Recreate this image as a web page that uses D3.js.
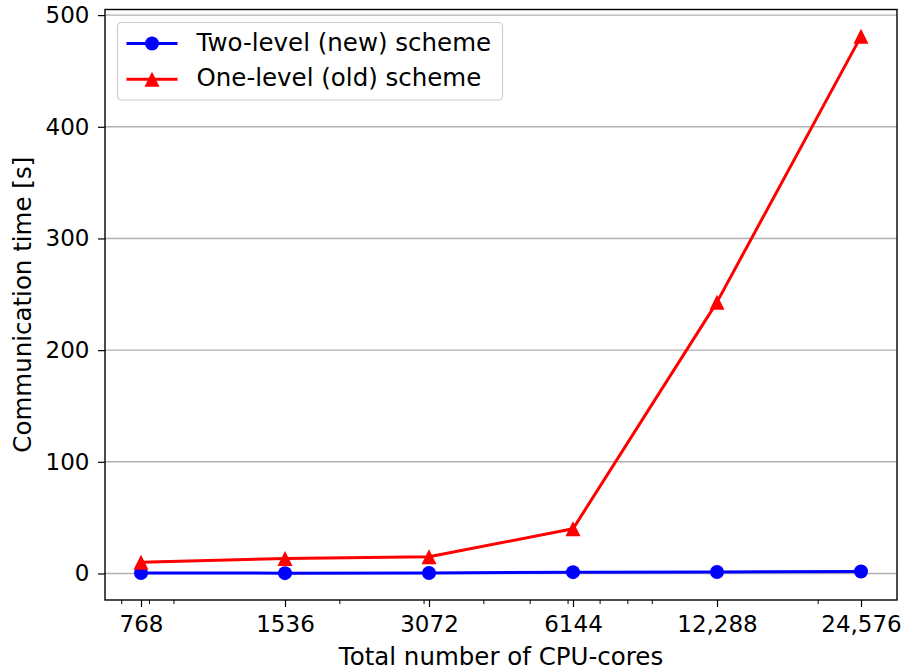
<!DOCTYPE html>
<html>
<head>
<meta charset="utf-8">
<script src="https://cdn.jsdelivr.net/npm/d3@7"></script>
<style>
  html, body { margin: 0; padding: 0; background: #fff; }
  svg text { font-family: "DejaVu Sans", sans-serif; fill: #000; }
</style>
</head>
<body>
<svg id="chart" width="906" height="671"></svg>
<script>
// Core counts (x) and communication times in seconds (y)
const cores = [768, 1536, 3072, 6144, 12288, 24576];
const coreLabels = ["768", "1536", "3072", "6144", "12,288", "24,576"];
const twoLevel = [0.5, 0.3, 0.5, 1.2, 1.3, 1.8];
const oneLevel = [10, 13.5, 15, 40, 243, 481];
const yTicks = [0, 100, 200, 300, 400, 500];
const minorTicks = [700, 800, 900, 2000, 3000, 4000, 5000, 6000, 7000, 8000, 9000, 20000];
const seriesNames = ["Two-level (new) scheme", "One-level (old) scheme"];

const svg = d3.select("#chart");
const plotL = 105, plotR = 897, plotT = 9.5, plotB = 600;
const tickFont = 23, labelFont = 24.5;

// log-scaled x with a quarter-octave pad on each side
const x = d3.scaleLog().base(2)
  .domain([cores[0] * Math.pow(2, -0.25), cores[cores.length - 1] * Math.pow(2, 0.25)])
  .range([plotL, plotR]);

const allVals = twoLevel.concat(oneLevel);
const yMin = d3.min(allVals), yMax = d3.max(allVals);
const pad = (yMax - yMin) * 0.05;
const y = d3.scaleLinear().domain([yMin - pad, yMax + pad]).range([plotB, plotT]);

// horizontal grid
svg.append("g").selectAll("line").data(yTicks).join("line")
  .attr("x1", plotL).attr("x2", plotR)
  .attr("y1", d => y(d)).attr("y2", d => y(d))
  .attr("stroke", "#b0b0b0").attr("stroke-width", 1.4);

// x axis
const xAxis = svg.append("g").attr("transform", `translate(0,${plotB})`)
  .call(d3.axisBottom(x).tickValues(cores).tickFormat((d, i) => coreLabels[i])
    .tickSizeOuter(0).tickSize(7).tickPadding(9));
xAxis.select(".domain").remove();
xAxis.selectAll("text").attr("font-size", tickFont).attr("font-family", "DejaVu Sans");
xAxis.selectAll("line").attr("stroke", "#000").attr("stroke-width", 1.2);

svg.append("g").attr("transform", `translate(0,${plotB})`)
  .selectAll("line").data(minorTicks).join("line")
  .attr("x1", d => x(d)).attr("x2", d => x(d))
  .attr("y1", 0).attr("y2", 4)
  .attr("stroke", "#000").attr("stroke-width", 1);

// y axis
const yAxis = svg.append("g").attr("transform", `translate(${plotL},0)`)
  .call(d3.axisLeft(y).tickValues(yTicks).tickSizeOuter(0).tickSize(7).tickPadding(8.5));
yAxis.select(".domain").remove();
yAxis.selectAll("text").attr("font-size", tickFont).attr("font-family", "DejaVu Sans");
yAxis.selectAll("line").attr("stroke", "#000").attr("stroke-width", 1.2);

// lines and markers
const line = d3.line().x((d, i) => x(cores[i])).y(d => y(d));
const tri = s => `M0,${-s / 2}L${-s / 2},${s / 2}L${s / 2},${s / 2}Z`;
const msize = 14;

const series = [
  { vals: twoLevel, color: "#0000ff", shape: "circle" },
  { vals: oneLevel, color: "#ff0000", shape: "triangle" }
];

series.forEach(s => {
  svg.append("path").datum(s.vals)
    .attr("d", line).attr("fill", "none")
    .attr("stroke", s.color).attr("stroke-width", 3).attr("stroke-linejoin", "round");
  const g = svg.append("g");
  s.vals.forEach((v, i) => {
    if (s.shape === "circle") {
      g.append("circle").attr("cx", x(cores[i])).attr("cy", y(v)).attr("r", msize / 2)
        .attr("fill", s.color);
    } else {
      g.append("path").attr("d", tri(msize + 1))
        .attr("transform", `translate(${x(cores[i])},${y(v)})`).attr("fill", s.color);
    }
  });
});

// frame
svg.append("rect").attr("x", plotL).attr("y", plotT)
  .attr("width", plotR - plotL).attr("height", plotB - plotT)
  .attr("fill", "none").attr("stroke", "#000").attr("stroke-width", 1.4);

// legend
const lg = svg.append("g").attr("transform", "translate(117.5,22.5)");
lg.append("rect").attr("width", 385).attr("height", 77.5).attr("rx", 4)
  .attr("fill", "#fff").attr("fill-opacity", 0.8)
  .attr("stroke", "#cccccc").attr("stroke-width", 1.2);
series.forEach((s, i) => {
  const cy = 21 + i * 35.7;
  lg.append("line").attr("x1", 9).attr("x2", 60).attr("y1", cy).attr("y2", cy)
    .attr("stroke", s.color).attr("stroke-width", 3);
  if (s.shape === "circle") {
    lg.append("circle").attr("cx", 34.5).attr("cy", cy).attr("r", msize / 2).attr("fill", s.color);
  } else {
    lg.append("path").attr("d", tri(msize + 1)).attr("transform", `translate(34.5,${cy})`)
      .attr("fill", s.color);
  }
  lg.append("text").attr("x", 79).attr("y", cy).attr("dy", "0.29em")
    .attr("font-size", labelFont).text(seriesNames[i]);
});

// axis titles
svg.append("text").attr("x", (plotL + plotR) / 2).attr("y", 665)
  .attr("text-anchor", "middle").attr("font-size", labelFont).text("Total number of CPU-cores");
svg.append("text").attr("transform", `translate(31,${(plotT + plotB) / 2}) rotate(-90)`)
  .attr("text-anchor", "middle").attr("font-size", labelFont).text("Communication time [s]");
</script>
</body>
</html>
